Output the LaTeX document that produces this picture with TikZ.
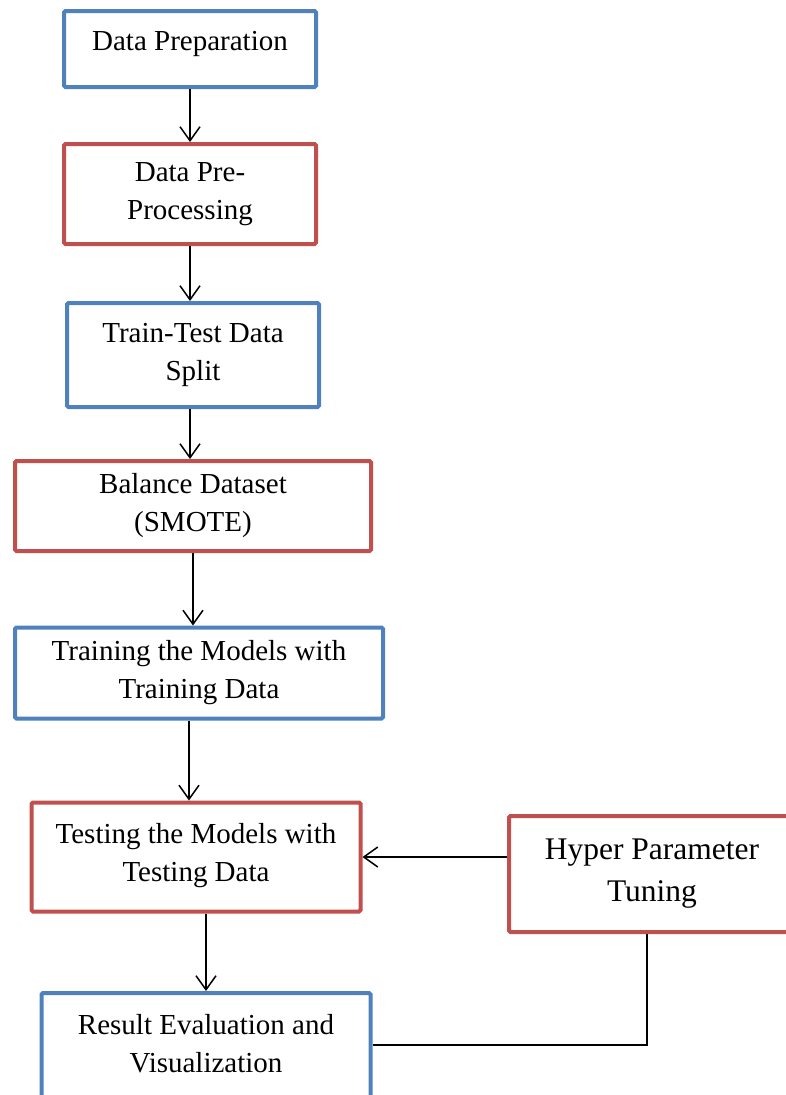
\documentclass[tikz,border=0pt]{standalone}
\usepackage{fontspec}
\setmainfont{Liberation Serif}
\usetikzlibrary{arrows.meta,positioning}
\definecolor{boxblue}{HTML}{4F81BD}
\definecolor{boxred}{HTML}{C0504D}

\begin{document}
\begin{tikzpicture}[x=1pt,y=-1pt,->,>={Straight Barb[length=14pt,width=20pt]},line width=1.5pt,
  box/.style={draw,rectangle,line width=4pt,rounded corners=1.5pt,align=center,inner sep=0pt,font=\fontsize{29}{38}\selectfont},
  bluebox/.style={box,draw=boxblue},
  redbox/.style={box,draw=boxred}]
  \useasboundingbox (0,0) rectangle (785,1095);
  \node[bluebox,minimum width=252pt,minimum height=76pt,text depth=16pt] (prep) at (190,49) {Data Preparation};
  \node[redbox,minimum width=252pt,minimum height=100pt]  (proc)   at (190,194)  {Data Pre-\\Processing};
  \node[bluebox,minimum width=252pt,minimum height=104pt] (split)  at (193,355)  {Train-Test Data\\Split};
  \node[redbox,minimum width=356pt,minimum height=90pt]   (smote)  at (193,506)  {Balance Dataset\\(SMOTE)};
  \node[bluebox,minimum width=368pt,minimum height=91pt]  (train)  at (199,673)  {Training the Models with\\Training Data};
  \node[redbox,minimum width=329pt,minimum height=109pt,text depth=10pt] (test) at (196,857) {Testing the Models with\\Testing Data};
  \node[redbox,minimum width=286pt,minimum height=116pt,font=\fontsize{31.5}{42}\selectfont] (hyper) at (652,874) {Hyper Parameter\\Tuning};
  \node[bluebox,minimum width=329pt,minimum height=114pt,text depth=14pt] (result) at (206,1050) {Result Evaluation and\\Visualization};

  \draw (prep.south) -- (prep.south |- proc.north);
  \draw (proc.south) -- (proc.south |- split.north);
  \draw ([xshift=-3pt]split.south) -- ([xshift=-3pt]split.south |- smote.north);
  \draw (smote.south) -- (smote.south |- train.north);
  \draw ([xshift=-10pt]train.south) -- ([xshift=-10pt]train.south |- test.north);
  \draw (result.north |- test.south) -- (result.north);
  \draw (hyper.west |- test) -- (test.east);
  \draw[-] ([yshift=5pt]result.east) -| ([xshift=-5pt]hyper.south);
\end{tikzpicture}
\end{document}
